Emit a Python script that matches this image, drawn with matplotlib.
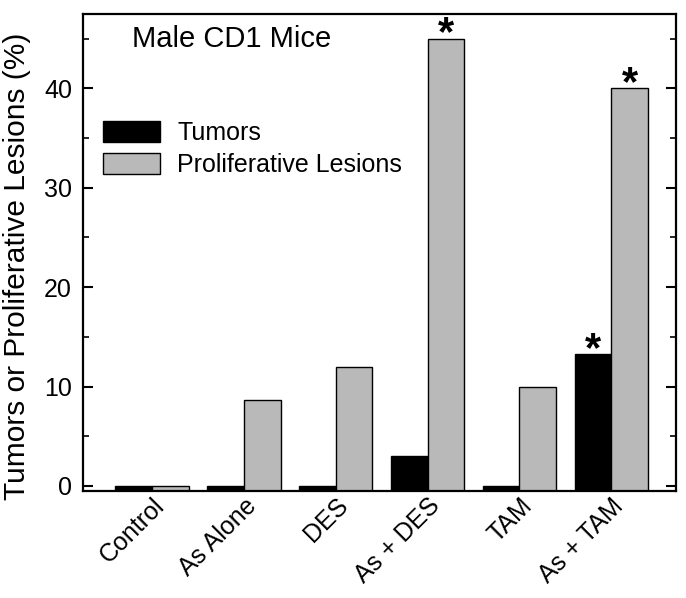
import matplotlib
matplotlib.use("Agg")
import matplotlib.pyplot as plt
import numpy as np
from matplotlib.ticker import MultipleLocator

categories = ["Control", "As Alone", "DES", "As + DES", "TAM", "As + TAM"]
tumors = [0, 0, 0, 3.0, 0, 13.3]
prolif = [0, 8.6, 12.0, 45.0, 10.0, 40.0]
sig_tumors = [False, False, False, False, False, True]
sig_prolif = [False, False, False, True, False, True]

plt.rcParams['font.family'] = ['Liberation Sans', 'DejaVu Sans']

fig = plt.figure(figsize=(6.86, 5.98), dpi=100)
ax = fig.add_axes([0.121, 0.179, 0.864, 0.798])

ymin, ymax = -0.5, 47.5
x = np.arange(len(categories))
w = 0.4
ax.bar(x - w/2, np.array(tumors) - ymin, w, bottom=ymin, color='black',
       edgecolor='black', linewidth=1, label='Tumors')
ax.bar(x + w/2, np.array(prolif) - ymin, w, bottom=ymin, color='#b9b9b9',
       edgecolor='black', linewidth=1, label='Proliferative Lesions')

for i in range(len(categories)):
    if sig_tumors[i]:
        ax.annotate('*', (x[i] - w/2, tumors[i]), xytext=(0, -5), textcoords='offset points',
                    ha='center', va='baseline', fontsize=30, fontweight='bold')
    if sig_prolif[i]:
        ax.annotate('*', (x[i] + w/2, prolif[i]), xytext=(0, -5), textcoords='offset points',
                    ha='center', va='baseline', fontsize=30, fontweight='bold')

ax.set_xlim(-0.75, 5.7)
ax.set_ylim(ymin, ymax)
ax.yaxis.set_major_locator(MultipleLocator(10))
ax.yaxis.set_minor_locator(MultipleLocator(5))
ax.tick_params(axis='y', which='both', direction='in', left=True, right=True, labelsize=18, pad=8)
ax.tick_params(axis='y', which='major', length=7, width=1.5)
ax.tick_params(axis='y', which='minor', length=4, width=1.2)
ax.set_xticks(x)
ax.set_xticklabels(categories, rotation=45, ha='right', rotation_mode='anchor', fontsize=18)
ax.tick_params(axis='x', length=0, pad=2)
for s in ax.spines.values():
    s.set_linewidth(1.6)

ax.set_ylabel('Tumors or Proliferative Lesions (%)', fontsize=21.5)
ax.yaxis.set_label_coords(-0.088, 0.47)
ax.text(0.083, 0.931, 'Male CD1 Mice', transform=ax.transAxes, fontsize=21,
        va='baseline', ha='left')
ax.legend(loc='upper left', bbox_to_anchor=(0.034, 0.776), frameon=False, fontsize=18,
          borderpad=0, borderaxespad=0,
          handlelength=2.28, handleheight=0.95, handletextpad=0.68, labelspacing=0.3)

fig.savefig('out.png', dpi=100)
